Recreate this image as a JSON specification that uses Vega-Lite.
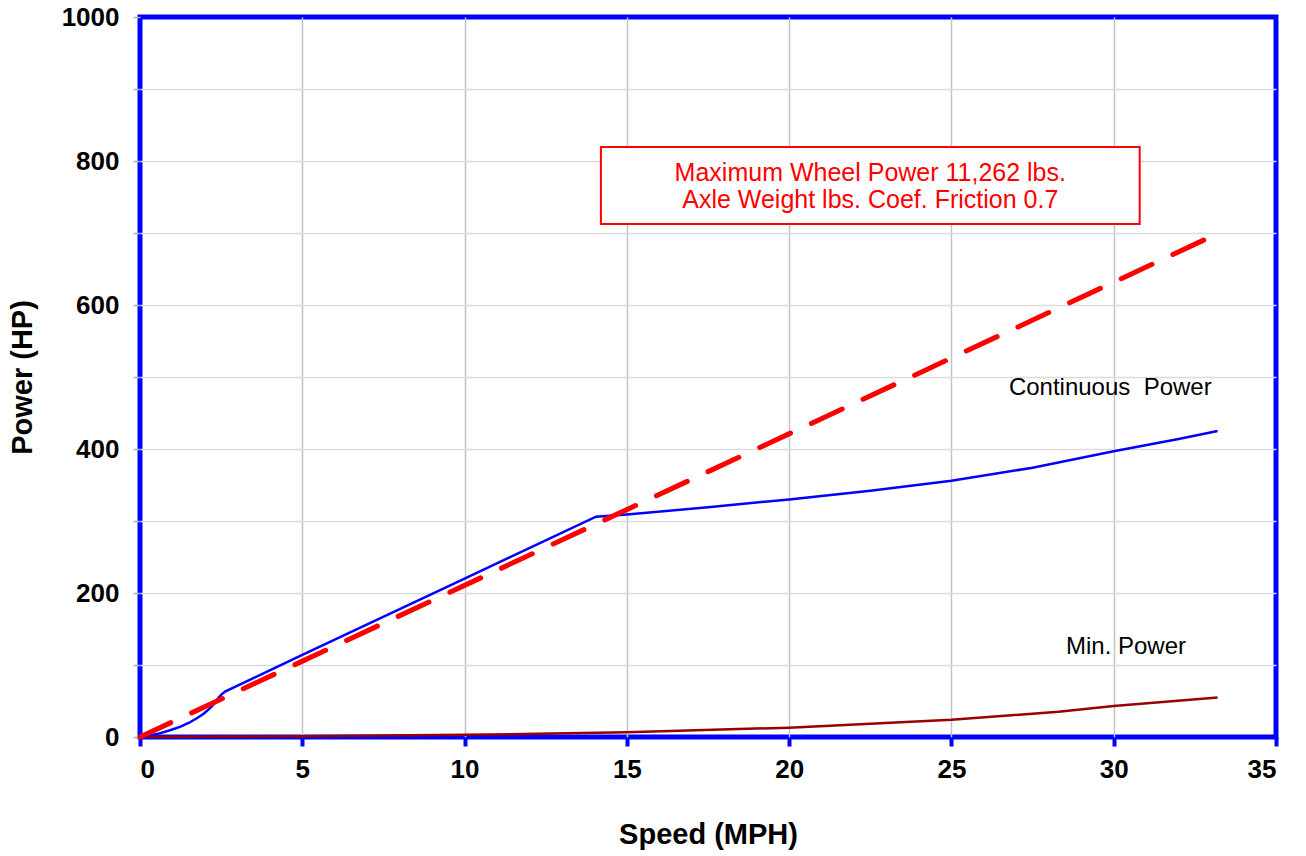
{
  "$schema": "https://vega.github.io/schema/vega-lite/v6.json",
  "width": 1136,
  "height": 720,
  "autosize": {"type": "none"},
  "padding": {"left": 140, "top": 17, "right": 30, "bottom": 119},
  "background": "white",
  "config": {
    "font": "Liberation Sans",
    "view": {"stroke": "#0000ff", "strokeWidth": 5},
    "axis": {"domain": false}
  },
  "datasets": {
    "curves": [
      {"series": "Continuous", "speed": 0, "power": 0},
      {"series": "Continuous", "speed": 0.3, "power": 2},
      {"series": "Continuous", "speed": 0.6, "power": 5},
      {"series": "Continuous", "speed": 0.9, "power": 9},
      {"series": "Continuous", "speed": 1.23, "power": 14},
      {"series": "Continuous", "speed": 1.5, "power": 19.5},
      {"series": "Continuous", "speed": 1.75, "power": 26},
      {"series": "Continuous", "speed": 1.95, "power": 32},
      {"series": "Continuous", "speed": 2.16, "power": 40},
      {"series": "Continuous", "speed": 2.3, "power": 47},
      {"series": "Continuous", "speed": 2.41, "power": 54},
      {"series": "Continuous", "speed": 2.5, "power": 58.5},
      {"series": "Continuous", "speed": 2.62, "power": 63},
      {"series": "Continuous", "speed": 5, "power": 114},
      {"series": "Continuous", "speed": 10, "power": 220},
      {"series": "Continuous", "speed": 14.05, "power": 306},
      {"series": "Continuous", "speed": 15, "power": 309},
      {"series": "Continuous", "speed": 17.5, "power": 319},
      {"series": "Continuous", "speed": 20, "power": 330},
      {"series": "Continuous", "speed": 22.5, "power": 342},
      {"series": "Continuous", "speed": 25, "power": 356},
      {"series": "Continuous", "speed": 27.5, "power": 374},
      {"series": "Continuous", "speed": 30, "power": 397},
      {"series": "Continuous", "speed": 32, "power": 414},
      {"series": "Continuous", "speed": 33.2, "power": 425},
      {"series": "Maximum", "speed": 0, "power": 0},
      {"series": "Maximum", "speed": 33.1, "power": 697},
      {"series": "Min", "speed": 0, "power": 0},
      {"series": "Min", "speed": 5, "power": 1},
      {"series": "Min", "speed": 10, "power": 3},
      {"series": "Min", "speed": 15, "power": 6.5},
      {"series": "Min", "speed": 20, "power": 13},
      {"series": "Min", "speed": 25, "power": 24},
      {"series": "Min", "speed": 28.3, "power": 35},
      {"series": "Min", "speed": 30, "power": 43},
      {"series": "Min", "speed": 33.2, "power": 55}
    ],
    "labels": [
      {"label": "Continuous \u00a0Power", "speed": 26.77, "power": 485},
      {"label": "Min. Power", "speed": 28.53, "power": 125}
    ],
    "box": [
      {"x1": 14.2, "x2": 30.8, "y1": 712.5, "y2": 819.4, "cx": 22.5, "cy": 783}
    ]
  },
  "layer": [
    {
      "data": {"name": "box"},
      "mark": {"type": "rect", "fill": "white", "stroke": "#ff0000", "strokeWidth": 2},
      "encoding": {
        "x": {"field": "x1", "type": "quantitative", "scale": {"domain": [0, 35], "nice": false},
              "axis": {"values": [0, 5, 10, 15, 20, 25, 30, 35], "title": "Speed (MPH)", "grid": true,
                       "gridColor": {"condition": {"test": "datum.value === 0 || datum.value === 35", "value": "transparent"}, "value": "#c4c4c4"},
                       "gridWidth": 1.5,
                       "tickColor": "#0000ff", "tickWidth": 4, "tickSize": 9,
                       "labelFont": "Liberation Sans", "labelFontSize": 26, "labelFontWeight": "bold", "labelColor": "#000",
                       "labelPadding": 10,
                       "titleFont": "Liberation Sans", "titleFontSize": 29, "titleFontWeight": "bold", "titleColor": "#000",
                       "titlePadding": 38}},
        "x2": {"field": "x2"},
        "y": {"field": "y1", "type": "quantitative", "scale": {"domain": [0, 1000], "nice": false},
              "axis": {"values": [0, 50, 100, 150, 200, 250, 300, 350, 400, 450, 500, 550, 600, 650, 700, 750, 800, 850, 900, 950, 1000],
                       "format": "d",
                       "labelExpr": "datum.value % 200 === 0 ? datum.label : ''",
                       "title": "Power (HP)", "grid": true,
                       "gridColor": {"condition": {"test": "datum.value === 0 || datum.value === 1000", "value": "transparent"}, "value": "#dcdcdc"},
                       "gridWidth": 1.5,
                       "tickColor": "#b0b0b0", "tickWidth": 1.5, "tickSize": 7,
                       "labelFont": "Liberation Sans", "labelFontSize": 26, "labelFontWeight": "bold", "labelColor": "#000",
                       "labelPadding": 14,
                       "titleFont": "Liberation Sans", "titleFontSize": 29, "titleFontWeight": "bold", "titleColor": "#000",
                       "titlePadding": 24}},
        "y2": {"field": "y2"}
      }
    },
    {
      "data": {"name": "box"},
      "mark": {"type": "text", "color": "#ff0000", "fontSize": 25, "font": "Liberation Sans", "align": "center", "baseline": "middle", "lineHeight": 27},
      "encoding": {
        "x": {"field": "cx", "type": "quantitative"},
        "y": {"field": "cy", "type": "quantitative"},
        "text": {"value": ["Maximum Wheel Power 11,262 lbs.", "Axle Weight lbs. Coef. Friction 0.7"]}
      }
    },
    {
      "data": {"name": "curves"},
      "transform": [{"filter": "datum.series === 'Min'"}],
      "mark": {"type": "line", "color": "#990000", "strokeWidth": 2.5},
      "encoding": {
        "x": {"field": "speed", "type": "quantitative"},
        "y": {"field": "power", "type": "quantitative"}
      }
    },
    {
      "data": {"name": "curves"},
      "transform": [{"filter": "datum.series === 'Continuous'"}],
      "mark": {"type": "line", "color": "#0000ff", "strokeWidth": 2.5},
      "encoding": {
        "x": {"field": "speed", "type": "quantitative"},
        "y": {"field": "power", "type": "quantitative"}
      }
    },
    {
      "data": {"name": "curves"},
      "transform": [{"filter": "datum.series === 'Maximum'"}],
      "mark": {"type": "line", "color": "#ff0000", "strokeWidth": 5, "strokeDash": [34, 23], "strokeCap": "round"},
      "encoding": {
        "x": {"field": "speed", "type": "quantitative"},
        "y": {"field": "power", "type": "quantitative"}
      }
    },
    {
      "data": {"name": "labels"},
      "mark": {"type": "text", "color": "#000000", "fontSize": 24, "font": "Liberation Sans", "align": "left", "baseline": "middle"},
      "encoding": {
        "x": {"field": "speed", "type": "quantitative"},
        "y": {"field": "power", "type": "quantitative"},
        "text": {"field": "label"}
      }
    }
  ]
}
